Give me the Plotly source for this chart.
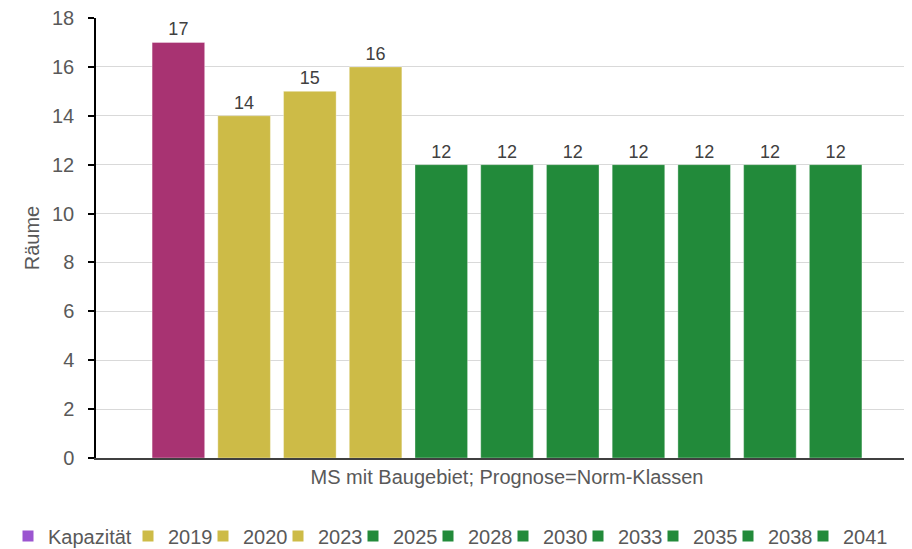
import plotly.graph_objects as go

category = ["MS mit Baugebiet; Prognose=Norm-Klassen"]
series_names = ["Kapazität", "2019", "2020", "2023", "2025", "2028", "2030", "2033", "2035", "2038", "2041"]
series_values = [17, 14, 15, 16, 12, 12, 12, 12, 12, 12, 12]
bar_colors = ["#A83372", "#CDBB47", "#CDBB47", "#CDBB47", "#228A3A", "#228A3A",
              "#228A3A", "#228A3A", "#228A3A", "#228A3A", "#228A3A"]
legend_colors = ["#9B55D0", "#CDBB47", "#CDBB47", "#CDBB47", "#228A3A", "#228A3A",
                 "#228A3A", "#228A3A", "#228A3A", "#228A3A", "#228A3A"]
y_ticks = [0, 2, 4, 6, 8, 10, 12, 14, 16, 18]

FONT = "Liberation Sans, Arial, sans-serif"
TXT = "#595959"

fig = go.Figure()
for name, val, col in zip(series_names, series_values, bar_colors):
    fig.add_trace(go.Bar(
        x=category, y=[val], name=name, showlegend=False,
        marker=dict(color=col, line=dict(color="rgba(255,255,255,0.35)", width=1)),
        text=[str(val)], textposition="outside", cliponaxis=False,
        textfont=dict(family=FONT, size=18, color="#404040"),
    ))

# one legend box per entry so the spacing matches the reference
LEG_Y = 0.024
leg_common = dict(orientation="h", xref="container", yref="container",
                  y=LEG_Y, xanchor="left", yanchor="middle",
                  font=dict(family=FONT, size=20, color=TXT),
                  bgcolor="rgba(0,0,0,0)", itemwidth=30)
legend_layout = {}
for i, (name, col) in enumerate(zip(series_names, legend_colors)):
    key = "legend" if i == 0 else f"legend{i + 1}"
    fig.add_trace(go.Scatter(
        x=[None], y=[None], name=name, mode="markers",
        marker=dict(color=col, symbol="square", size=11),
        legend=key, showlegend=True,
    ))
    xpos = 0.0 if i == 0 else (120 + (i - 1) * 75) / 904
    legend_layout[key] = dict(x=xpos, **leg_common)

# the page body adds an 8px offset; figure sized to fill the rest of the window
fig.update_layout(
    width=904, height=541,
    margin=dict(l=88, r=0, t=10, b=91, autoexpand=False),
    paper_bgcolor="white", plot_bgcolor="white",
    barmode="group", bargap=0.114, bargroupgap=0.2,
    font=dict(family=FONT, color=TXT),
    showlegend=True,
    **legend_layout,
)
fig.update_xaxes(
    type="category", range=[-0.5037, 0.4963],
    showline=True, linecolor="#404040", linewidth=1.5,
    ticks="", showgrid=False,
    tickfont=dict(family=FONT, size=20, color=TXT),
)
fig.update_yaxes(
    range=[0, 18], tickvals=y_ticks,
    showline=True, linecolor="#000000", linewidth=1.5,
    ticks="outside", ticklen=6, tickcolor="#000000", tickwidth=1.5,
    ticklabelstandoff=10, ticklabeloverflow="allow",
    showgrid=True, gridcolor="#D9D9D9", gridwidth=1.2,
    zeroline=False,
    tickfont=dict(family=FONT, size=20, color=TXT),
    title=dict(text="Räume", font=dict(family=FONT, size=20, color=TXT), standoff=7),
)
fig.write_html("out.html")
